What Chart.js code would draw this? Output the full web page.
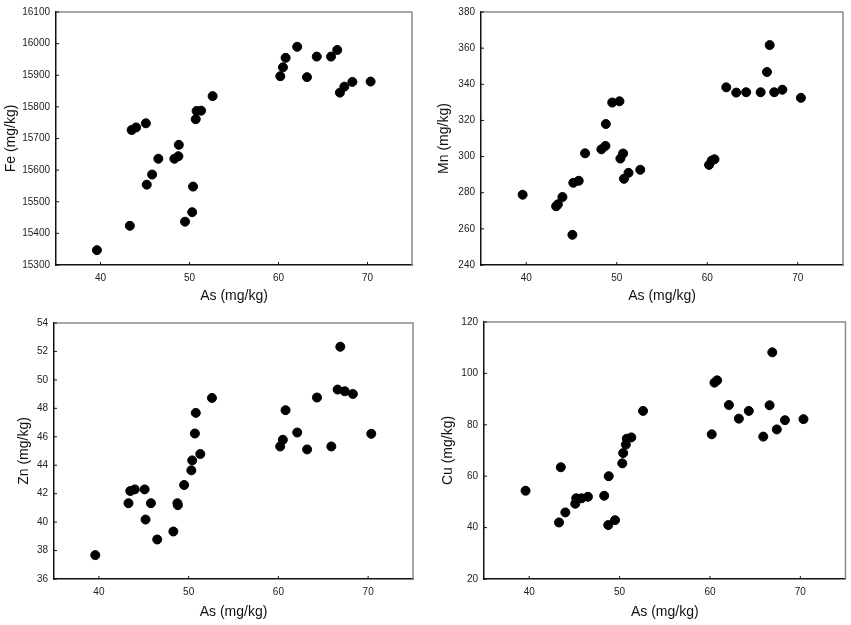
<!DOCTYPE html>
<html>
<head>
<meta charset="utf-8">
<script src="https://cdn.jsdelivr.net/npm/chart.js@4.4.0/dist/chart.umd.min.js"></script>
<style>
  body { margin: 0; background: #fff; width: 851px; height: 625px; position: relative; overflow: hidden; }
  .panel { position: absolute; }
</style>
</head>
<body>
<div class="panel" style="left:0;top:0;width:425px;height:310px"><canvas id="feChart"></canvas></div>
<div class="panel" style="left:425px;top:0;width:426px;height:310px"><canvas id="mnChart"></canvas></div>
<div class="panel" style="left:0;top:310px;width:425px;height:315px"><canvas id="znChart"></canvas></div>
<div class="panel" style="left:425px;top:310px;width:426px;height:315px"><canvas id="cuChart"></canvas></div>
<script>
// As (mg/kg) for each sample, shared by all four panels
const asValues = [39.6, 43.3, 43.5, 44.0, 45.1, 45.2, 45.8, 46.5, 48.3, 48.75, 48.8, 49.5, 50.3, 50.4, 50.7,
                  50.8, 51.3, 52.6, 60.2, 60.5, 60.8, 62.1, 63.2, 64.3, 65.9, 66.6, 66.9, 67.4, 68.3, 70.35];

const feValues = [15347, 15424, 15727, 15735, 15748, 15554, 15586, 15636, 15636, 15644, 15680, 15437, 15467, 15548, 15761,
                  15787, 15788, 15834, 15897, 15925, 15955, 15990, 15894, 15959, 15959, 15980, 15845, 15864, 15879, 15880];
const mnValues = [278.9, 272.5, 273.6, 277.6, 256.7, 285.5, 286.6, 301.8, 304, 305.9, 318, 329.9, 330.6, 298.9, 301.7,
                  287.7, 291, 292.7, 295.4, 297.8, 298.5, 338.3, 335.4, 335.6, 335.6, 346.8, 361.7, 335.6, 337, 332.5];
const znValues = [37.68, 41.33, 42.19, 42.3, 42.3, 40.18, 41.33, 38.78, 39.34, 41.33, 41.19, 42.61, 43.64, 44.34, 46.23,
                  47.68, 44.79, 48.73, 45.32, 45.79, 47.87, 46.3, 45.11, 48.76, 45.32, 49.32, 52.33, 49.2, 49.01, 46.21];
const cuValues = [54.35, 42.0, 63.5, 45.9, 49.3, 51.4, 51.4, 52.0, 52.4, 41.0, 60.0, 42.9, 65.0, 69.0, 72.3,
                  74.6, 75.1, 85.4, 76.3, 96.4, 97.3, 87.7, 82.4, 85.4, 75.4, 87.6, 108.2, 78.2, 81.8, 82.2];

// tick labels
const xTicks = [40, 50, 60, 70];
const feTicks = [15300, 15400, 15500, 15600, 15700, 15800, 15900, 16000, 16100];
const mnTicks = [240, 260, 280, 300, 320, 340, 360, 380];
const znTicks = [36, 38, 40, 42, 44, 46, 48, 50, 52, 54];
const cuTicks = [20, 40, 60, 80, 100, 120];

const fontFamily = 'Arial, "Liberation Sans", sans-serif';

// kotak: atas/kanan abu-abu, tick kecil ke dalam
const framePlugin = {
    id: 'frame',
    beforeDatasetsDraw(chart) {
        const { ctx, chartArea: a, scales: { x, y } } = chart;
        ctx.save();
        ctx.strokeStyle = '#8a8a8a';
        ctx.lineWidth = 1.5;
        ctx.beginPath();
        ctx.moveTo(a.left, a.top);
        ctx.lineTo(a.right, a.top);
        ctx.lineTo(a.right, a.bottom);
        ctx.stroke();

        ctx.strokeStyle = '#111';
        ctx.lineWidth = 1;
        ctx.beginPath();
        x.ticks.forEach(t => {
            const px = x.getPixelForValue(t.value);
            ctx.moveTo(px, a.bottom);
            ctx.lineTo(px, a.bottom - 3);
        });
        y.ticks.forEach(t => {
            const py = y.getPixelForValue(t.value);
            ctx.moveTo(a.left, py);
            ctx.lineTo(a.left + 3, py);
        });
        ctx.stroke();
        ctx.restore();
    }
};

function makePanel(id, yValues, yTicks, yLabel, g) {
    const points = asValues.map((v, i) => ({ x: v, y: yValues[i] }));
    return new Chart(document.getElementById(id), {
        type: 'scatter',
        data: {
            datasets: [{
                data: points,
                backgroundColor: '#000',
                borderColor: '#000',
                pointRadius: 4.5,
                pointHoverRadius: 4.5
            }]
        },
        plugins: [framePlugin],
        options: {
            responsive: true,
            maintainAspectRatio: false,
            animation: false,
            events: [],
            layout: { padding: { top: g.top, right: g.right, bottom: 0, left: 0 } },
            plugins: { legend: { display: false }, tooltip: { enabled: false } },
            scales: {
                x: {
                    type: 'linear',
                    min: 35,
                    max: 75,
                    afterBuildTicks: s => { s.ticks = xTicks.map(v => ({ value: v })); },
                    afterFit: s => { s.height = g.xHeight; },
                    grid: { display: false, drawTicks: false },
                    border: { display: true, color: '#111', width: 1.5 },
                    ticks: { padding: 7, color: '#222', font: { family: fontFamily, size: 10 }, callback: v => String(v) },
                    title: {
                        display: true,
                        text: 'As (mg/kg)',
                        color: '#111',
                        padding: { top: 0, bottom: g.xTitlePad },
                        font: { family: fontFamily, size: 14 }
                    }
                },
                y: {
                    type: 'linear',
                    min: yTicks[0],
                    max: yTicks[yTicks.length - 1],
                    afterBuildTicks: s => { s.ticks = yTicks.map(v => ({ value: v })); },
                    afterFit: s => { s.width = g.yWidth; },
                    grid: { display: false, drawTicks: false },
                    border: { display: true, color: '#111', width: 1.5 },
                    ticks: { padding: 6, color: '#222', font: { family: fontFamily, size: 10 }, callback: v => String(v) },
                    title: {
                        display: true,
                        text: yLabel,
                        color: '#111',
                        padding: { top: g.yTitlePad, bottom: 0 },
                        font: { family: fontFamily, size: 14 }
                    }
                }
            }
        }
    });
}

makePanel('feChart', feValues, feTicks, 'Fe (mg/kg)', { top: 11, right: 13, xHeight: 45, yWidth: 56, xTitlePad: 5, yTitlePad: 3 });
makePanel('mnChart', mnValues, mnTicks, 'Mn (mg/kg)', { top: 11, right: 8, xHeight: 45, yWidth: 56, xTitlePad: 5, yTitlePad: 10.5 });
makePanel('znChart', znValues, znTicks, 'Zn (mg/kg)', { top: 13, right: 12, xHeight: 46, yWidth: 54, xTitlePad: 4.6, yTitlePad: 15.5 });
makePanel('cuChart', cuValues, cuTicks, 'Cu (mg/kg)', { top: 9, right: 5, xHeight: 46, yWidth: 59, xTitlePad: 4.6, yTitlePad: 14.5 });
</script>
</body>
</html>
